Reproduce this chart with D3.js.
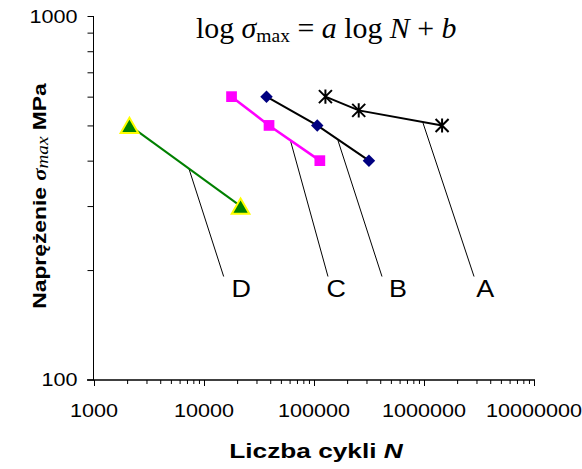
<!DOCTYPE html>
<html><head><meta charset="utf-8">
<script src="https://cdn.jsdelivr.net/npm/d3@7"></script>
<style>body{margin:0;background:#fff} svg{display:block}</style>
</head><body>
<svg id="chart" width="582" height="469"></svg>
<script>
// Fatigue (S-N) lines for four materials on log-log axes
const seriesNames = ["A", "B", "C", "D"];
const cyclesA = [127000, 255000, 1460000];
const stressA = [600, 550, 500];
const cyclesB = [37000, 107000, 316000];
const stressB = [600, 500, 400];
const cyclesC = [17800, 39000, 113000];
const stressC = [600, 500, 400];
const cyclesD = [2100, 21500];
const stressD = [500, 300];

const xTickValues = [1e3, 1e4, 1e5, 1e6, 1e7];
const xTickLabels = ["1000", "10000", "100000", "1000000", "10000000"];
const yTickValues = [100, 1000];
const yTickLabels = ["100", "1000"];

// leader lines from a point on each line down to its letter
const leaderFromN = [979000, 165000, 61000, 7300];
const leaderFromS = [508, 455, 455, 380];
const leaderToN = [2850000, 415000, 134000, 15100];
const leaderToS = [192, 192, 192, 192];
const labelN = [2990000, 481000, 129700, 17750];
const labelS = [169, 169, 169, 169];

const SX = 1.2; // horizontal widening of the sans-serif labels

const svg = d3.select("#chart");
const x = d3.scaleLog().domain([1e3, 1e7]).range([94, 534]);
const y = d3.scaleLog().domain([100, 1000]).range([379.5, 16]);

// marker shapes
const triangleBox = { draw(ctx, size) {
  const s = Math.sqrt(size * 4 / Math.sqrt(3)), h = s * Math.sqrt(3) / 2;
  ctx.moveTo(0, -h / 2); ctx.lineTo(s / 2, h / 2); ctx.lineTo(-s / 2, h / 2); ctx.closePath();
}};
const diamond = { draw(ctx, size) {
  const r = Math.sqrt(size / 2);
  ctx.moveTo(0, -r); ctx.lineTo(r, 0); ctx.lineTo(0, r); ctx.lineTo(-r, 0); ctx.closePath();
}};
const asterisk = { draw(ctx, size) {
  const r = Math.sqrt(size) / 2;
  ctx.moveTo(-r, -r); ctx.lineTo(r, r);
  ctx.moveTo(-r, r); ctx.lineTo(r, -r);
  ctx.moveTo(0, -r * 1.08); ctx.lineTo(0, r * 1.08);
}};

const series = [
  { name: "A", cycles: cyclesA, stress: stressA, line: "#000", lw: 2, type: asterisk, size: 169, fill: "none", stroke: "#000", sw: 2 },
  { name: "B", cycles: cyclesB, stress: stressB, line: "#000", lw: 2, type: diamond, size: 78, fill: "#000080", stroke: "none", sw: 0 },
  { name: "C", cycles: cyclesC, stress: stressC, line: "#ff00ff", lw: 2.5, type: d3.symbolSquare, size: 115, fill: "#ff00ff", stroke: "none", sw: 0 },
  { name: "D", cycles: cyclesD, stress: stressD, line: "#008000", lw: 2, type: triangleBox, size: 135, fill: "#008000", stroke: "#ffff00", sw: 2 }
];

// axes
const yAxis = d3.axisLeft(y).tickValues(d3.range(100, 1001, 100)).tickSize(6).tickFormat("");
const gy = svg.append("g").attr("transform", "translate(93.5,0)").call(yAxis);
gy.select(".domain").attr("d", `M0,${y(1000)}V${y(100) + 1}`).attr("stroke", "#000");
gy.selectAll(".tick line").attr("stroke", "#000");

const minorX = [];
for (let d = 1e3; d < 1e7; d *= 10) for (let k = 1; k <= 10; k++) minorX.push(d * k);
const xAxis = d3.axisBottom(x).tickValues(Array.from(new Set(minorX))).tickSize(6).tickFormat("");
const gx = svg.append("g").attr("transform", "translate(0,380)").call(xAxis);
gx.select(".domain").attr("d", `M87,0H${x(1e7) + 1}`).attr("stroke", "#000").attr("stroke-width", 1.3);
gx.selectAll(".tick line")
  .attr("stroke", "#000")
  .attr("y2", d => (Math.abs(Math.log10(d) - Math.round(Math.log10(d))) < 1e-9 ? 6 : 4));

const sans = "Arial, 'Liberation Sans', sans-serif";
const serif = "'Times New Roman', 'Liberation Serif', serif";

svg.append("g").selectAll("text").data(xTickValues).join("text")
  .attr("transform", d => `translate(${x(d)},417) scale(${SX},1)`)
  .attr("text-anchor", "middle").attr("font-family", sans).attr("font-size", 18)
  .text((d, i) => xTickLabels[i]);

svg.append("g").selectAll("text").data(yTickValues).join("text")
  .attr("transform", d => `translate(77.5,${y(d) + 6.5}) scale(${SX},1)`)
  .attr("text-anchor", "end").attr("font-family", sans).attr("font-size", 18)
  .text((d, i) => yTickLabels[i]);

// leader lines
svg.append("g").selectAll("line").data(seriesNames).join("line")
  .attr("x1", (d, i) => x(leaderFromN[i])).attr("y1", (d, i) => y(leaderFromS[i]))
  .attr("x2", (d, i) => x(leaderToN[i])).attr("y2", (d, i) => y(leaderToS[i]))
  .attr("stroke", "#000").attr("stroke-width", 1);

svg.append("g").selectAll("text").data(seriesNames).join("text")
  .attr("transform", (d, i) => `translate(${x(labelN[i])},${y(labelS[i])}) scale(1.17,1)`)
  .attr("font-family", sans).attr("font-size", 23)
  .text(d => d);

// series lines and markers
const line = d3.line().x(p => x(p[0])).y(p => y(p[1]));
series.forEach(s => {
  const pts = s.cycles.map((c, i) => [c, s.stress[i]]);
  svg.append("path").attr("d", line(pts)).attr("fill", "none")
    .attr("stroke", s.line).attr("stroke-width", s.lw);
  svg.append("g").selectAll("path").data(pts).join("path")
    .attr("transform", p => `translate(${x(p[0])},${y(p[1])})`)
    .attr("d", d3.symbol().type(s.type).size(s.size))
    .attr("fill", s.fill).attr("stroke", s.stroke).attr("stroke-width", s.sw);
});

// formula title
const title = svg.append("text").attr("transform", "translate(196,38) scale(1.03,1)")
  .attr("font-family", serif).attr("font-size", 29);
title.append("tspan").text("log ");
title.append("tspan").attr("font-style", "italic").text("σ");
title.append("tspan").attr("font-size", 19).attr("dy", 3.5).text("max");
title.append("tspan").attr("dy", -3.5).text(" = ");
title.append("tspan").attr("font-style", "italic").text("a");
title.append("tspan").text(" log ");
title.append("tspan").attr("font-style", "italic").text("N");
title.append("tspan").text(" + ");
title.append("tspan").attr("font-style", "italic").text("b");

// axis titles
const ylab = svg.append("text")
  .attr("transform", `translate(46,196) rotate(-90) scale(1.2,1)`)
  .attr("text-anchor", "middle").attr("font-family", sans).attr("font-weight", "bold").attr("font-size", 19);
ylab.append("tspan").text("Naprężenie ");
ylab.append("tspan").attr("font-family", serif).attr("font-style", "italic").text("σ");
ylab.append("tspan").attr("font-family", serif).attr("font-style", "italic")
  .attr("font-weight", "normal").attr("font-size", 16).attr("dy", 2).text("max");
ylab.append("tspan").attr("dy", -2).text(" MPa");

const xlab = svg.append("text")
  .attr("transform", `translate(316,458) scale(1.25,1)`)
  .attr("text-anchor", "middle").attr("font-family", sans).attr("font-weight", "bold").attr("font-size", 21);
xlab.append("tspan").text("Liczba cykli ");
xlab.append("tspan").attr("font-style", "italic").text("N");
</script>
</body></html>
